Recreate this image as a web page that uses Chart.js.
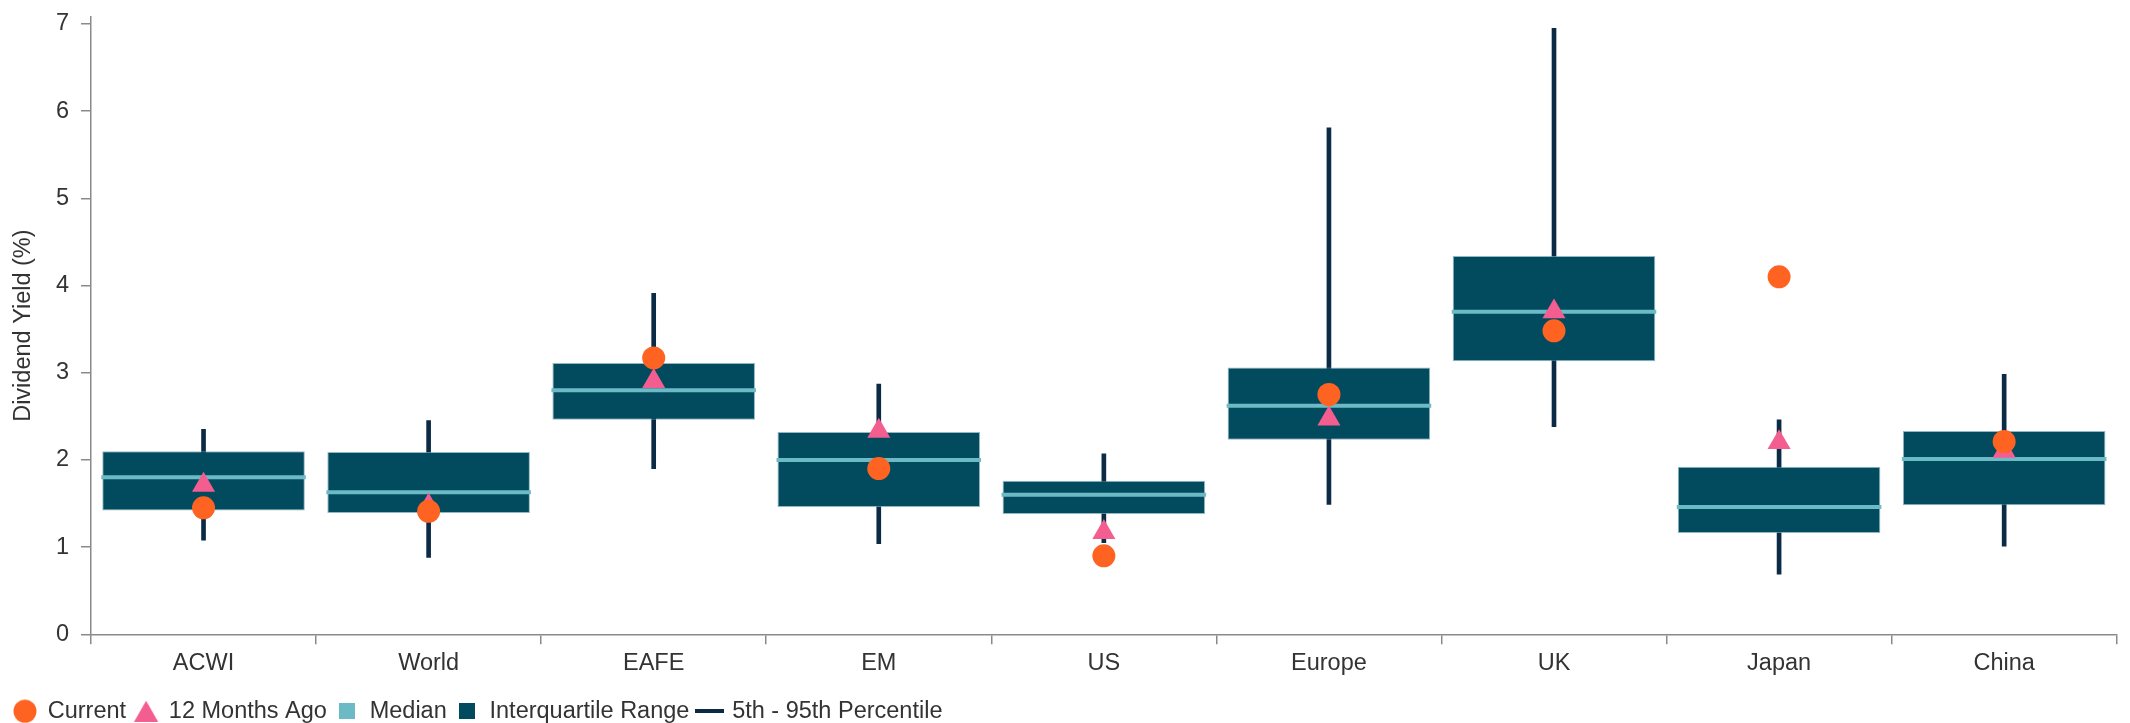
<!DOCTYPE html>
<html>
<head>
<meta charset="utf-8">
<script src="https://cdn.jsdelivr.net/npm/chart.js@4.4.1/dist/chart.umd.min.js"></script>
<style>
  html, body { margin: 0; padding: 0; background: #ffffff; overflow: hidden; }
  #wrap { position: relative; width: 2130px; height: 733px; }
</style>
</head>
<body>
<div id="wrap"><canvas id="c"></canvas></div>
<script>
// ---- Data ----
const categories = ['ACWI', 'World', 'EAFE', 'EM', 'US', 'Europe', 'UK', 'Japan', 'China'];
const p5      = [1.08, 0.88, 1.90, 1.04, 1.05, 1.49, 2.38, 0.69, 1.01];
const p95     = [2.35, 2.45, 3.91, 2.87, 2.07, 5.81, 6.95, 2.46, 2.98];
const q1      = [1.42, 1.39, 2.46, 1.46, 1.38, 2.23, 3.13, 1.16, 1.48];
const q3      = [2.10, 2.09, 3.11, 2.32, 1.76, 3.06, 4.34, 1.92, 2.33];
const median  = [1.80, 1.63, 2.80, 2.00, 1.60, 2.62, 3.70, 1.46, 2.01];
const current = [1.45, 1.41, 3.17, 1.90, 0.90, 2.75, 3.48, 4.10, 2.21];
const ago12   = [1.71, 1.47, 2.90, 2.33, 1.17, 2.47, 3.70, 2.20, 2.10];
const yTicks  = [0, 1, 2, 3, 4, 5, 6, 7];

// ---- Styles ----
const C_CURRENT = '#ff6321';
const C_AGO = '#f45d8f';
const C_MEDIAN = '#6cbac6';
const C_IQR = '#024b5f';
const C_WHISK = '#0b2a45';
const C_TEXT = '#333333';
const C_AXIS = '#8a8a8a';
const FONT = "'Liberation Sans', Arial, sans-serif";

function icon(w, h, draw) {
  const cv = document.createElement('canvas');
  cv.width = w; cv.height = h;
  draw(cv.getContext('2d'), w, h);
  return cv;
}
const legendIcons = {
  'Current': icon(24, 24, (g, w, h) => { g.fillStyle = C_CURRENT; g.beginPath(); g.arc(w/2, h/2, 11.5, 0, Math.PI*2); g.fill(); }),
  '12 Months Ago': icon(24, 21, (g, w, h) => { g.fillStyle = C_AGO; g.beginPath(); g.moveTo(w/2, 0); g.lineTo(w, h); g.lineTo(0, h); g.closePath(); g.fill(); }),
  'Median': icon(16, 16, (g, w, h) => { g.fillStyle = C_MEDIAN; g.fillRect(0, 0, w, h); }),
  'Interquartile Range': icon(16, 16, (g, w, h) => { g.fillStyle = C_IQR; g.fillRect(0, 0, w, h); }),
  '5th - 95th Percentile': icon(29, 4, (g, w, h) => { g.fillStyle = C_WHISK; g.fillRect(0, 0, w, h); })
};

const halfBox = (c) => {
  const s = c.chart.scales.x;
  return s ? (s.width / categories.length) * 0.45 + 1 : 100;
};

new Chart(document.getElementById('c'), {
  type: 'bar',
  data: {
    labels: categories,
    datasets: [
      { type: 'line', label: 'Current', data: current, showLine: false,
        pointStyle: 'circle', pointRadius: 11.5, pointBackgroundColor: C_CURRENT,
        pointBorderWidth: 0, pointBorderColor: C_CURRENT, order: 0 },
      { type: 'line', label: '12 Months Ago', data: ago12, showLine: false,
        pointStyle: 'triangle', pointRadius: 13.3, pointBackgroundColor: C_AGO,
        pointBorderWidth: 0, pointBorderColor: C_AGO, order: 1 },
      { type: 'line', label: 'Median', data: median, showLine: false,
        pointStyle: 'line', pointRadius: halfBox, pointBorderColor: C_MEDIAN,
        pointBackgroundColor: C_MEDIAN, pointBorderWidth: 4, order: 2 },
      { type: 'bar', label: 'Interquartile Range', data: q1.map((v, i) => [v, q3[i]]),
        backgroundColor: C_IQR, borderColor: 'rgba(110,160,178,0.75)', borderWidth: 1,
        borderSkipped: false, grouped: false, barPercentage: 0.9, categoryPercentage: 1, order: 3 },
      { type: 'bar', label: '5th - 95th Percentile', data: p5.map((v, i) => [v, p95[i]]),
        backgroundColor: C_WHISK, borderWidth: 0, grouped: false, barThickness: 4, order: 4 }
    ]
  },
  options: {
    responsive: true,
    maintainAspectRatio: false,
    animation: false,
    events: [],
    layout: { padding: { top: 17, left: 5, right: 0, bottom: 0 } },
    scales: {
      x: {
        offset: true,
        grid: { display: true, offset: true, drawOnChartArea: false, drawTicks: true,
                tickLength: 10, color: C_AXIS, lineWidth: 1.5 },
        border: { display: true, color: C_AXIS, width: 1.5 },
        ticks: { color: C_TEXT, font: { family: FONT, size: 23.5 }, padding: 5, maxRotation: 0 },
        afterFit: (s) => { s.height = 56.25; }
      },
      y: {
        min: 0, max: 7.08,
        afterBuildTicks: (s) => { s.ticks = yTicks.map(v => ({ value: v })); },
        grid: { display: true, drawOnChartArea: false, drawTicks: true, tickLength: 10,
                color: C_AXIS, lineWidth: 1.5 },
        border: { display: true, color: C_AXIS, width: 1.5 },
        ticks: { color: C_TEXT, font: { family: FONT, size: 23.5, lineHeight: 0.4 }, padding: 12,
                 callback: (v) => String(v) },
        title: { display: true, text: 'Dividend Yield (%)', color: C_TEXT,
                 font: { family: FONT, size: 23.5 }, padding: { top: 4, bottom: 0 } },
        afterFit: (s) => { s.width = 86; }
      }
    },
    plugins: {
      tooltip: { enabled: false },
      legend: {
        display: true,
        position: 'bottom',
        align: 'start',
        labels: {
          usePointStyle: true,
          boxWidth: 22,
          boxHeight: 22,
          padding: 9,
          color: C_TEXT,
          font: { family: FONT, size: 23.5 },
          generateLabels: (chart) => {
            const items = Chart.defaults.plugins.legend.labels.generateLabels(chart);
            items.forEach(it => { it.pointStyle = legendIcons[it.text]; it.rotation = 0; });
            return items;
          }
        }
      }
    }
  }
});
</script>
</body>
</html>
